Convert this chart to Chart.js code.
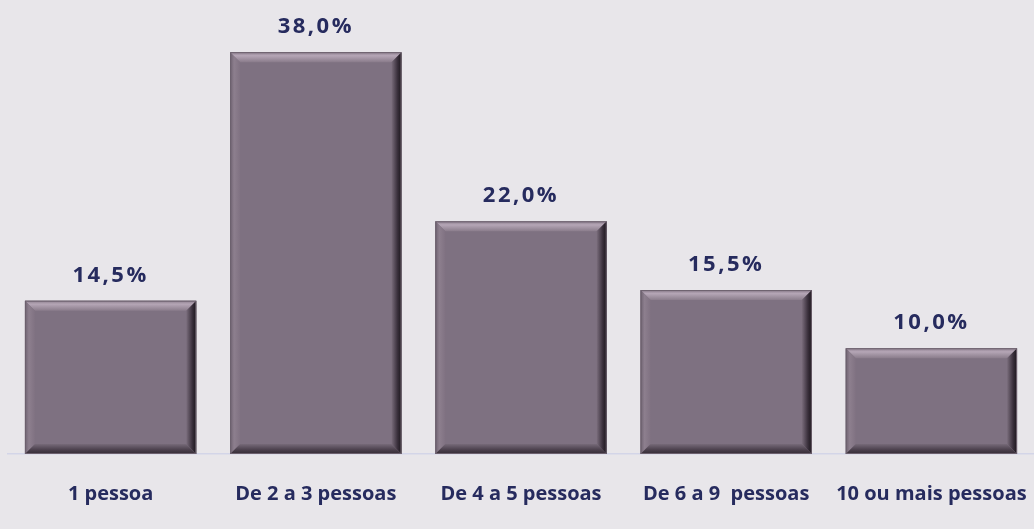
<!DOCTYPE html>
<html>
<head>
<meta charset="utf-8">
<script src="https://cdn.jsdelivr.net/npm/chart.js@4"></script>
<style>
  html, body { margin: 0; padding: 0; background: #e8e6ea; }
  #wrap { width: 1034px; height: 529px; }
</style>
</head>
<body>
<div id="wrap"><canvas id="grafico"></canvas></div>
<script>
const categorias = ['1 pessoa', 'De 2 a 3 pessoas', 'De 4 a 5 pessoas', 'De 6 a 9  pessoas', '10 ou mais pessoas'];
const percentuais = [14.5, 38.0, 22.0, 15.5, 10.0];
const corTexto = '#262b5e';
const corBarra = '#7e7181';

// fundo do canvas
const fundo = {
    id: 'fundo',
    beforeDraw(chart) {
        const ctx = chart.ctx;
        ctx.save();
        ctx.fillStyle = '#e8e6ea';
        ctx.fillRect(0, 0, chart.width, chart.height);
        ctx.restore();
    }
};

// efeito de chanfro nas barras + rótulos de valor
const chanfro = {
    id: 'chanfro',
    afterDatasetsDraw(chart) {
        const ctx = chart.ctx;
        const meta = chart.getDatasetMeta(0);
        const b = 10;
        meta.data.forEach((bar, i) => {
            const w = bar.width;
            const l = bar.x - w / 2, r = bar.x + w / 2;
            const t = bar.y, bt = bar.base;
            ctx.save();

            // topo claro
            let g = ctx.createLinearGradient(0, t, 0, t + b);
            g.addColorStop(0, '#8c7e8d');
            g.addColorStop(0.35, '#b5a6b6');
            g.addColorStop(1, '#8a7c8b');
            ctx.fillStyle = g;
            ctx.beginPath();
            ctx.moveTo(l, t); ctx.lineTo(r, t); ctx.lineTo(r - b, t + b); ctx.lineTo(l + b, t + b);
            ctx.closePath(); ctx.fill();

            // esquerda
            g = ctx.createLinearGradient(l, 0, l + b, 0);
            g.addColorStop(0, '#6e6270');
            g.addColorStop(0.4, '#8d7f8e');
            g.addColorStop(1, '#807282');
            ctx.fillStyle = g;
            ctx.beginPath();
            ctx.moveTo(l, t); ctx.lineTo(l + b, t + b); ctx.lineTo(l + b, bt - b); ctx.lineTo(l, bt);
            ctx.closePath(); ctx.fill();

            // direita escura
            g = ctx.createLinearGradient(r - b, 0, r, 0);
            g.addColorStop(0, '#7a6d7c');
            g.addColorStop(0.6, '#3a303c');
            g.addColorStop(1, '#1a151b');
            ctx.fillStyle = g;
            ctx.beginPath();
            ctx.moveTo(r, t); ctx.lineTo(r, bt); ctx.lineTo(r - b, bt - b); ctx.lineTo(r - b, t + b);
            ctx.closePath(); ctx.fill();

            // base escura
            g = ctx.createLinearGradient(0, bt - b, 0, bt);
            g.addColorStop(0, '#766a78');
            g.addColorStop(0.6, '#4a3f4b');
            g.addColorStop(1, '#352c36');
            ctx.fillStyle = g;
            ctx.beginPath();
            ctx.moveTo(l, bt); ctx.lineTo(r, bt); ctx.lineTo(r - b, bt - b); ctx.lineTo(l + b, bt - b);
            ctx.closePath(); ctx.fill();

            ctx.strokeStyle = '#6c606d';
            ctx.lineWidth = 1;
            ctx.strokeRect(l + 0.5, t + 0.5, w - 1, bt - t - 1);

            // rótulo
            ctx.fillStyle = corTexto;
            ctx.font = 'bold 22px "Open Sans"';
            ctx.letterSpacing = '2.5px';
            ctx.textAlign = 'center';
            ctx.textBaseline = 'alphabetic';
            const txt = percentuais[i].toFixed(1).replace('.', ',') + '%';
            ctx.fillText(txt, bar.x, t - 19);
            ctx.restore();
        });
    }
};

new Chart(document.getElementById('grafico'), {
    type: 'bar',
    data: {
        labels: categorias,
        datasets: [{
            data: percentuais,
            backgroundColor: corBarra,
            borderWidth: 0,
            barPercentage: 0.835,
            categoryPercentage: 1.0
        }]
    },
    options: {
        responsive: true,
        maintainAspectRatio: false,
        animation: false,
        layout: { padding: { top: 31, left: 8, right: 0, bottom: 3 } },
        plugins: {
            legend: { display: false },
            tooltip: { enabled: false }
        },
        scales: {
            x: {
                grid: { display: false },
                border: { display: true, color: '#d3d5e8', width: 1.5 },
                afterFit(scale) {
                    // os rótulos não devem encolher a área do gráfico
                    scale.paddingLeft = 0;
                    scale.paddingRight = 0;
                },
                ticks: {
                    color: corTexto,
                    padding: 20,
                    maxRotation: 0,
                    font: { family: '"Open Sans"', size: 20, weight: 'bold' }
                }
            },
            y: {
                display: false,
                min: 0,
                max: 40
            }
        }
    },
    plugins: [fundo, chanfro]
});
</script>
</body>
</html>
